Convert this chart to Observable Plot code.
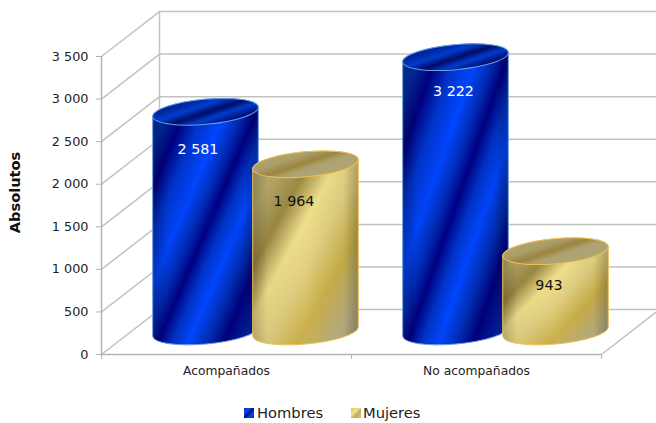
<!DOCTYPE html>
<html><head><meta charset="utf-8">
<script src="https://cdn.jsdelivr.net/npm/d3@7"></script>
<script src="https://cdn.jsdelivr.net/npm/@observablehq/plot@0.6"></script>
<style>
html,body{margin:0;padding:0;background:#fff;overflow:hidden}
#legend{position:relative;height:27px;font:14.7px "DejaVu Sans",sans-serif;color:#222}
#legend span{position:absolute;top:8px;line-height:18px}
#legend i{position:absolute;top:12px;width:10px;height:10px;display:block}
svg{display:block}
</style></head><body>
<div id="chart"></div>
<div id="legend"></div>
<script>
const categories = ["Acompañados", "No acompañados"];
const seriesNames = ["Hombres", "Mujeres"];
const hombres = [2581, 3222];
const mujeres = [1964, 943];
const yTicks = [0, 500, 1000, 1500, 2000, 2500, 3000, 3500];

// layout constants
const depthX = 0.232, depthY = 528;
const barStep = 0.4, rx = 53, ry = 12.5, tilt = -5.2, barShift = 0.002;
const grid = "#c2c2c2", axisC = "#b4b4b4", font = '"DejaVu Sans",sans-serif';
const labelNudge = [[[-8, 37], [-12, 37]], [[-2.5, 34], [-7, 34]]];

const rows = categories.flatMap((c, i) => [
  {cat: i, s: 0, value: hombres[i]},
  {cat: i, s: 1, value: mujeres[i]}
]);
const xPos = r => r.cat + 0.5 + depthX / 2 + barShift + (r.s === 0 ? -barStep / 2 : barStep / 2);
const fmt = d3.formatLocale({decimal: ",", thousands: " ", grouping: [3], currency: ["", ""]}).format(",d");

const stopsBody = [
  [[0,"#0038bc"],[.09,"#002ea4"],[.18,"#000080"],[.27,"#0034cc"],[.375,"#0046ff"],[.45,"#002eba"],[.52,"#000084"],[.59,"#0034c8"],[.665,"#0046ff"],[.75,"#002eb4"],[.83,"#00007c"],[1,"#0038bc"]],
  [[0,"#b9ad72"],[.16,"#b9ac6c"],[.3,"#9c8942"],[.43,"#efe08c"],[.56,"#e0cf80"],[.71,"#cbb04a"],[.88,"#b9af82"],[1,"#a9a27a"]]
];
const stopsCap = [
  [[0,"#0036b4"],[.2,"#00249a"],[.37,"#003ccc"],[.52,"#000c68"],[.66,"#003ccc"],[.83,"#000c74"],[1,"#0036b4"]],
  [[0,"#b3a872"],[.3,"#aa9e69"],[.47,"#9b853e"],[.6,"#ada271"],[1,"#b1a673"]]
];
const outline = ["#6c9ddc", "#f0bf58"];

function addGrad(defs, id, stops) {
  const g = defs.append("linearGradient").attr("id", id)
    .attr("x1", 0).attr("y1", 0).attr("x2", 1).attr("y2", 1);
  for (const [o, c] of stops) g.append("stop").attr("offset", o).attr("stop-color", c);
}

function cylinders(index, scales) {
  const {x, y} = scales;
  const g = d3.create("svg:g");
  const defs = g.append("defs");
  [0, 1].forEach(s => {
    addGrad(defs, "body" + s, stopsBody[s]);
    addGrad(defs, "cap" + s, stopsCap[s]);
  });
  const sh = defs.append("linearGradient").attr("id", "edge");
  [[0, .24], [.14, .04], [.5, 0], [.86, .04], [1, .24]].forEach(([o, a]) =>
    sh.append("stop").attr("offset", o).attr("stop-color", "#000").attr("stop-opacity", a));
  const th = tilt * Math.PI / 180;
  const xExt = Math.sqrt(rx * rx * Math.cos(th) ** 2 + ry * ry * Math.sin(th) ** 2);
  const yOff = (rx * rx - ry * ry) * Math.sin(-th) * Math.cos(th) / xExt;
  for (const r of rows) {
    const cx = x(xPos(r));
    const yb = y(depthY / 2), yt = y(r.value + depthY / 2);
    const d = `M${cx - xExt},${yt + yOff}L${cx - xExt},${yb + yOff}` +
      `A${rx},${ry} ${tilt} 0 0 ${cx + xExt},${yb - yOff}L${cx + xExt},${yt - yOff}` +
      `A${rx},${ry} ${tilt} 0 0 ${cx - xExt},${yt + yOff}Z`;
    g.append("path").attr("d", d).attr("fill", `url(#body${r.s})`);
    g.append("path").attr("d", d).attr("fill", "url(#edge)")
      .attr("stroke", outline[r.s]).attr("stroke-width", 1);
    g.append("ellipse").attr("cx", cx).attr("cy", yt).attr("rx", rx).attr("ry", ry)
      .attr("transform", `rotate(${tilt} ${cx} ${yt})`)
      .attr("fill", `url(#cap${r.s})`).attr("stroke", outline[r.s]).attr("stroke-width", 1);
  }
  return g.node();
}

const labels = rows.map(r => Plot.text([r], {
  x: xPos, y: d => d.value + depthY / 2, text: d => fmt(d.value),
  dx: labelNudge[r.cat][r.s][0], dy: labelNudge[r.cat][r.s][1],
  fill: r.s === 0 ? "#fff" : "#111", fontSize: 14.3, fontFamily: font
}));

const chart = Plot.plot({
  width: 656, height: 396,
  marginLeft: 101, marginRight: 55, marginTop: 56, marginBottom: 42,
  style: {fontFamily: font, background: "#fff"},
  x: {domain: [0, 2]},
  y: {domain: [0, 3500]},
  marks: [
    Plot.ruleY(yTicks, {y: d => d + depthY, x1: () => depthX, x2: () => 2 + depthX, stroke: grid, strokeWidth: 1.5}),
    Plot.link(yTicks, {x1: () => 0, x2: () => depthX, y1: d => d, y2: d => d + depthY, stroke: grid, strokeWidth: 1.5}),
    Plot.link([2], {x1: d => d, x2: d => d + depthX, y1: () => 0, y2: () => depthY, stroke: grid, strokeWidth: 1.5}),
    Plot.ruleX([depthX], {y1: () => depthY, y2: () => 3500 + depthY, stroke: grid, strokeWidth: 1.5}),
    Plot.ruleX([0], {y1: () => 0, y2: () => 3500, stroke: axisC, strokeWidth: 1.5}),
    Plot.ruleY([0], {x1: () => 0, x2: () => 2, stroke: axisC, strokeWidth: 1.5}),
    Plot.axisY({ticks: yTicks, tickFormat: fmt, tickSize: 5, tickPadding: 8, stroke: axisC, fill: "#222", fontSize: 12.8, label: null}),
    Plot.axisX({ticks: [0, 1, 2], tickFormat: () => "", tickSize: 5, stroke: axisC, label: null}),
    Plot.axisX({ticks: [0.5, 1.5], tickFormat: d => categories[Math.floor(d)], tickSize: 0, tickPadding: 12, fill: "#222", fontSize: 12.3, label: null}),
    Plot.text(["Absolutos"], {frameAnchor: "left", textAnchor: "middle", dx: -86, dy: -13, rotate: -90, fontWeight: "bold", fontSize: 14.6, fill: "#111", fontFamily: font}),
    cylinders,
    ...labels
  ]
});
document.getElementById("chart").append(chart);

const legend = d3.select("#legend");
const swatches = [
  {x: 244, tx: 257, css: "linear-gradient(135deg,#0036b4,#0044ff 30%,#00106e 50%,#0044ff 70%,#0036b4)"},
  {x: 351, tx: 363, css: "linear-gradient(135deg,#eac558,#efe08c 40%,#b9ad72 60%,#e8c050)"}
];
swatches.forEach((s, i) => {
  legend.append("i").style("left", s.x + "px").style("background", s.css);
  legend.append("span").style("left", s.tx + "px").text(seriesNames[i]);
});
</script>
</body></html>
